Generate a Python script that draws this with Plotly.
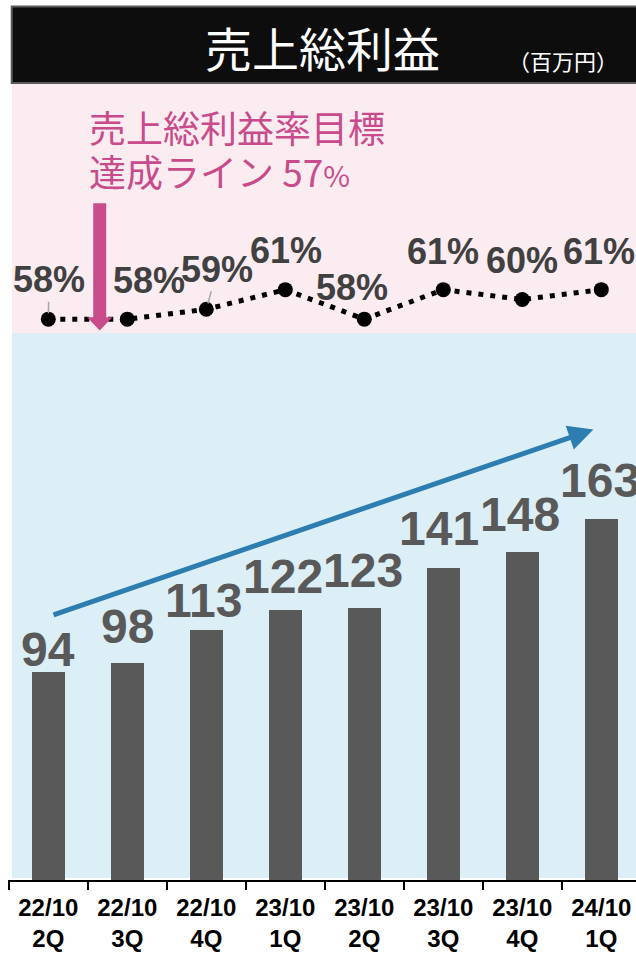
import plotly.graph_objects as go

# ---------------- data ----------------
quarters = ["22/10<br>2Q", "22/10<br>3Q", "22/10<br>4Q", "23/10<br>1Q",
            "23/10<br>2Q", "23/10<br>3Q", "23/10<br>4Q", "24/10<br>1Q"]
gross_profit = [94, 98, 113, 122, 123, 141, 148, 163]
gross_margin = [58, 58, 59, 61, 58, 61, 60, 61]
target_margin = 57
title_text = "売上総利益"
unit_text = "（百万円）"
target_line1 = "売上総利益率目標"
target_line2 = "達成ライン"

# ---------------- layout geometry (page pixels) ----------------
W, H = 636, 961
PLOT_L, PLOT_T, PLOT_B = 8, 84, 880
ML, MR = PLOT_L, 0
MT, MB = PLOT_T, H - PLOT_B
PW, PH = W - ML - MR, H - MT - MB
CAT_PX = 79.0
FIRST_EDGE = 8.8
X_LO = -0.5 - (FIRST_EDGE - PLOT_L) / CAT_PX
X_HI = X_LO + PW / CAT_PX
BAR_PX_PER_UNIT = 2.214
Y2_LO, Y2_HI = 0.946, 81.92


def pxx(x):
    return (x - PLOT_L) / PW


def pxy(y):
    return (PLOT_B - y) / PH


xs = list(range(len(quarters)))

fig = go.Figure()

fig.add_trace(go.Bar(
    x=xs, y=gross_profit, width=0.42,
    marker=dict(color="#595959", line=dict(width=0)),
    hoverinfo="skip", showlegend=False,
))

fig.add_trace(go.Scatter(
    x=xs, y=gross_margin, yaxis="y2", mode="lines+markers",
    line=dict(color="black", width=5, dash="5px,7px"),
    marker=dict(color="black", size=15),
    hoverinfo="skip", showlegend=False, cliponaxis=False,
))

shapes = []
split = pxy(333)
shapes.append(dict(type="rect", xref="paper", yref="paper", x0=pxx(12), x1=1.01,
                   y0=split, y1=1, fillcolor="#FBECF1", line=dict(width=0), layer="below"))
shapes.append(dict(type="rect", xref="paper", yref="paper", x0=pxx(12), x1=1.01,
                   y0=pxy(878), y1=split, fillcolor="#DCEEF6", line=dict(width=0), layer="below"))
shapes.append(dict(type="rect", xref="paper", yref="paper", x0=pxx(11.7), x1=1.02,
                   y0=pxy(83), y1=pxy(6.5), fillcolor="#0D0D0D",
                   line=dict(color="#5A5A5A", width=2), layer="above"))

ax_c = 0.651
sw, hw = 0.082, 0.16
tip = target_margin - 0.15
hb = target_margin + 1.2
top = target_margin + 12.8
path = (f"M{ax_c - sw},{top} L{ax_c + sw},{top} L{ax_c + sw},{hb} L{ax_c + hw},{hb} "
        f"L{ax_c},{tip} L{ax_c - hw},{hb} L{ax_c - sw},{hb} Z")
shapes.append(dict(type="path", xref="x", yref="y2", path=path,
                   fillcolor="#C94B8B", line=dict(width=0), layer="above"))

annotations = []
annotations.append(dict(text=title_text, xref="paper", yref="paper", x=pxx(322), y=pxy(47),
                        xanchor="center", yanchor="middle", showarrow=False,
                        font=dict(family="Noto Sans CJK JP", size=47, color="white")))
annotations.append(dict(text=unit_text, xref="paper", yref="paper", x=pxx(563), y=pxy(60),
                        xanchor="center", yanchor="middle", showarrow=False,
                        font=dict(family="Noto Sans CJK JP", size=22, color="white")))
annotations.append(dict(text=target_line1, xref="paper", yref="paper", x=pxx(87), y=pxy(127),
                        xanchor="left", yanchor="middle", showarrow=False,
                        font=dict(family="Noto Sans CJK JP", size=37, color="#C94B8B")))
annotations.append(dict(text=f"{target_line2} {target_margin}<span style='font-size:29px'>%</span>",
                        xref="paper", yref="paper", x=pxx(87), y=pxy(171),
                        xanchor="left", yanchor="middle", showarrow=False,
                        font=dict(family="Noto Sans CJK JP", size=37, color="#C94B8B")))

bar_dy = [22, 37, 29, 33.5, 37.5, 39.5, 37.5, 39]
bar_dx = [0, 0, -3, -2.5, -1, -4, -2.5, -1]
for i, v in enumerate(gross_profit):
    annotations.append(dict(text=str(v), x=i, y=v, xref="x", yref="y",
                            xanchor="center", yanchor="middle", showarrow=False,
                            xshift=bar_dx[i], yshift=bar_dy[i],
                            font=dict(family="Liberation Sans", size=48, color="#595959",
                                      weight="bold")))

pct_dx = [0.7, 22, 11, 1, -12, 0, 0, -2]
pct_dy = [-39.5, -39, -40, -39, -31.5, -38, -39, -38]
leader = [True, False, True, False, False, False, False, False]
for i, p in enumerate(gross_margin):
    annotations.append(dict(text=f"{p}%", x=i, y=p, xref="x", yref="y2",
                            showarrow=True, ax=pct_dx[i], ay=pct_dy[i],
                            arrowhead=0, arrowwidth=1.5, standoff=6,
                            arrowcolor="#A6A6A6" if leader[i] else "rgba(0,0,0,0)",
                            font=dict(family="Liberation Sans", size=36, color="#404040",
                                      weight="bold")))

annotations.append(dict(text="", x=6.9, y=203.5, ax=0.047, ay=119.5, xref="x", yref="y",
                        axref="x", ayref="y", showarrow=True, arrowhead=2, arrowsize=1.0,
                        arrowwidth=5, arrowcolor="#2E7DB0"))

fig.update_layout(
    width=W, height=H,
    margin=dict(l=ML, r=MR, t=MT, b=MB, pad=0),
    paper_bgcolor="white", plot_bgcolor="rgba(0,0,0,0)",
    shapes=shapes, annotations=annotations,
    xaxis=dict(range=[X_LO, X_HI], tickmode="array", tickvals=xs,
               ticktext=quarters, ticks="", showgrid=False, zeroline=False,
               showline=True, linecolor="black", linewidth=2, ticklabelstandoff=5,
               tickfont=dict(family="Liberation Sans", size=24, color="black", weight="bold"),
               minor=dict(tickmode="array", tickvals=[i - 0.5 for i in range(len(xs) + 1)],
                          ticks="outside", ticklen=8, tickwidth=2, tickcolor="black",
                          showgrid=False)),
    yaxis=dict(range=[0, PH / BAR_PX_PER_UNIT], visible=False, showgrid=False),
    yaxis2=dict(range=[Y2_LO, Y2_HI], overlaying="y", visible=False, showgrid=False),
    bargap=0,
)

page_fix = ("var d=document.documentElement,b=document.body;"
            "d.style.margin='0';d.style.padding='0';d.style.overflow='hidden';"
            "b.style.margin='0';b.style.padding='0';b.style.overflow='hidden';")
fig.write_html("out.html", config={"displayModeBar": False}, post_script=page_fix)
